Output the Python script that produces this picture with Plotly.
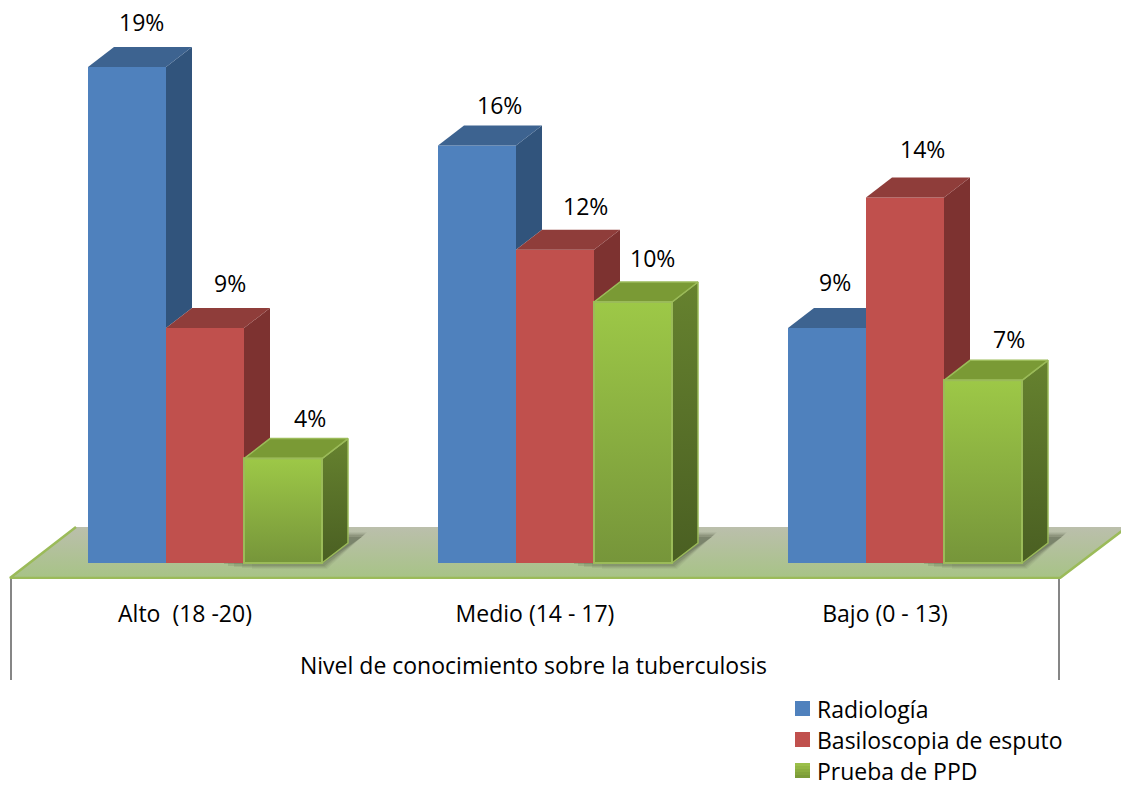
import plotly.graph_objects as go

# Survey results, in percent, per knowledge level
categories = ["Alto  (18 -20)", "Medio (14 - 17)", "Bajo (0 - 13)"]
series_names = ["Radiología", "Basiloscopia de esputo", "Prueba de PPD"]
radiologia = [19, 16, 9]
basiloscopia = [9, 12, 14]
prueba_ppd = [4, 10, 7]
axis_title = "Nivel de conocimiento sobre la tuberculosis"

# Hand-placed nudges of the value labels (pixels)
label_xshift = [[1, 12, 14], [9, 17, 6], [-5, 4, 13]]
label_yshift = [[45, 45, 41], [40, 44, 44], [46, 49, 41]]

W, H = 1121, 787
FONT = "Open Sans"
FS = 23

# Scales: one category is 350 px wide, one percent is 26.1 px tall
PX_PER_CAT = 350.0
PX_PER_PCT = 26.1
BASE_PX = 563.0
PLOT_L = 10
PLOT_B = 579
y_min = (BASE_PX - PLOT_B) / PX_PER_PCT
y_max = BASE_PX / PX_PER_PCT
BAR_W = 78 / PX_PER_CAT
DX = 26 / PX_PER_CAT   # depth of the 3D extrusion
DY = 20 / PX_PER_PCT
OFFSETS = [-97 / PX_PER_CAT, -19 / PX_PER_CAT, 59 / PX_PER_CAT]


def cx(px):
    return (px - PLOT_L) / PX_PER_CAT - 0.5


def cy(px):
    return (BASE_PX - px) / PX_PER_PCT


front = ["#4F81BD", "#C0504D", "#8BAF40"]
side = ["#31547C", "#7D3230", "#5F7A2C"]
top = ["#3D6390", "#8F3D3A", "#7A9A35"]
edge = [None, None, "#9BBB59"]
values = [radiologia, basiloscopia, prueba_ppd]

fig = go.Figure()


def poly(xs, ys, color, axes="2", line=None, gradient=None, lw=1.5):
    kw = dict(fillgradient=gradient) if gradient else dict(fillcolor=color)
    fig.add_trace(go.Scatter(
        x=xs, y=ys, mode="lines", fill="toself", cliponaxis=False,
        line=dict(color=line or "rgba(0,0,0,0)", width=lw if line else 0),
        hoverinfo="skip", showlegend=False,
        xaxis="x" if axes == "1" else "x2", yaxis="y" if axes == "1" else "y2", **kw))


# Floor plane
fx = [cx(10), cx(76), cx(1127), cx(1060), cx(10)]
fy = [cy(578), cy(527), cy(527), cy(578), cy(578)]
poly(fx, fy, None, axes="1", gradient=dict(
    type="vertical", colorscale=[[0, "#A7C386"], [1, "#BBBFAC"]]))
fig.add_trace(go.Scatter(
    x=[cx(76), cx(10), cx(1060), cx(1127)], y=[cy(527), cy(578), cy(578), cy(527)],
    mode="lines", line=dict(color="#9BBB59", width=2.5), cliponaxis=False,
    hoverinfo="skip", showlegend=False))

# Soft shadow cast on the floor by each group
for c in range(3):
    layers = [(5, 0.05, 70), (4, 0.07, 80), (3, 0.09, 88), (2, 0.11, 94), (0, 0.16, 98)]
    for grow, alpha, reach in layers:
        right = c + OFFSETS[2] + BAR_W
        g = grow / PX_PER_CAT
        gy = grow / PX_PER_PCT
        drop = 1 / PX_PER_PCT
        sx = [right - reach / PX_PER_CAT, right + g, right + 40 / PX_PER_CAT + g,
              right + 26 / PX_PER_CAT, right, right - reach / PX_PER_CAT]
        sy = [-drop - gy, -drop - gy, 26 / PX_PER_PCT + gy,
              26 / PX_PER_PCT + gy, 0, 0]
        poly(sx, sy, f"rgba(40,45,30,{alpha})", axes="1")

# Front faces as bars, one trace per series
for s, name in enumerate(series_names):
    fig.add_trace(go.Bar(
        x=[0, 1, 2], y=values[s], name=name, width=BAR_W, offset=OFFSETS[s],
        marker=dict(color=front[s], line=dict(color=edge[s] or front[s], width=2 if edge[s] else 0)),
        xaxis="x2", yaxis="y2", showlegend=False))

# Side and top faces; each is cut where the next series in the row hides it
for c in range(3):
    for s in range(3):
        v = values[s][c]
        nxt = values[s + 1][c] if s < 2 else None
        x0 = c + OFFSETS[s]
        x1 = x0 + BAR_W
        low = nxt if nxt is not None else 0
        if nxt is None or nxt < v:
            poly([x1, x1 + DX, x1 + DX, x1, x1], [v, v + DY, low + DY, low, v],
                 None if s == 2 else side[s], line=edge[s],
                 gradient=dict(type="vertical", colorscale=[[0, "#4A5F22"], [1, "#66822F"]]) if s == 2 else None)
        if nxt is not None and nxt > v:
            tx = [x0, x0 + DX, x1, x1, x0]
        else:
            tx = [x0, x0 + DX, x1 + DX, x1, x0]
        poly(tx, [v, v + DY, v + DY, v, v], top[s], line=edge[s])

# Gradient on the green fronts
for c in range(3):
    x0 = c + OFFSETS[2]
    x1 = x0 + BAR_W
    v = prueba_ppd[c]
    poly([x0, x1, x1, x0, x0], [0, 0, v, v, 0], None, line="#9BBB59", lw=2,
         gradient=dict(type="vertical", colorscale=[[0, "#76953A"], [1, "#9DC847"]]))

annotations = []
# Value labels
for c in range(3):
    for s in range(3):
        v = values[s][c]
        annotations.append(dict(
            x=c + OFFSETS[s] + BAR_W / 2 + DX / 2, y=v, xref="x2", yref="y2",
            text=f"{v}%", showarrow=False, xanchor="center", yanchor="middle",
            xshift=label_xshift[c][s], yshift=label_yshift[c][s],
            font=dict(family=FONT, size=FS, color="#000000")))

# Axis title
annotations.append(dict(
    x=533 / W, y=1 - 665 / H, xref="paper", yref="paper", text=axis_title,
    showarrow=False, xanchor="center", yanchor="middle",
    font=dict(family=FONT, size=FS, color="#000000")))

shapes = []
# Outer category dividers below the floor
for px in (11, 1059):
    shapes.append(dict(type="line", xref="paper", yref="paper", x0=px / W, x1=px / W,
                       y0=1 - 579 / H, y1=1 - 680 / H, line=dict(color="#868686", width=2)))

# Legend keys and names
legend_rows = [709, 740, 771]
for name, color, row in zip(series_names, ["#4F81BD", "#C0504D", None], legend_rows):
    if color:
        shapes.append(dict(type="rect", xref="paper", yref="paper", x0=795 / W, x1=810 / W,
                           y0=1 - (row - 8) / H, y1=1 - (row + 7) / H,
                           fillcolor=color, line=dict(width=0)))
    else:
        bands = ["#9BBF4A", "#93B644", "#8BAD3F", "#83A43B", "#7B9B38"]
        for i, band in enumerate(bands):
            shapes.append(dict(type="rect", xref="paper", yref="paper", x0=795 / W, x1=810 / W,
                               y0=1 - (row - 8 + 3 * i) / H, y1=1 - (row - 5 + 3 * i) / H,
                               fillcolor=band, line=dict(width=0)))
    annotations.append(dict(
        x=815 / W, y=1 - row / H, xref="paper", yref="paper", text=name, showarrow=False,
        xanchor="left", yanchor="middle",
        font=dict(family=FONT, size=FS, color="#000000")))

# The axes span the full page width so the floor can run off the right edge
axis_x = dict(range=[cx(0), cx(W)], domain=[0, 1], showgrid=False, zeroline=False,
              showline=False, fixedrange=True)
axis_y = dict(range=[y_min, y_max], domain=[1 - PLOT_B / H, 1], showgrid=False, zeroline=False,
              showline=False, showticklabels=False, ticks="", fixedrange=True)

fig.update_layout(
    width=W, height=H, margin=dict(l=0, r=0, t=0, b=0, pad=0), autosize=False,
    paper_bgcolor="white", plot_bgcolor="rgba(0,0,0,0)", barmode="overlay", showlegend=False,
    xaxis=dict(axis_x, tickmode="array", tickvals=[0, 1, 2], ticktext=categories, ticks="",
               ticklabelstandoff=19, tickfont=dict(family=FONT, size=FS, color="#000000")),
    yaxis=axis_y,
    xaxis2=dict(axis_x, overlaying="x", anchor="y2", showticklabels=False, ticks=""),
    yaxis2=dict(axis_y, overlaying="y", anchor="x2"),
    annotations=annotations, shapes=shapes,
)

fig.write_html("out.html", config=dict(displayModeBar=False))
